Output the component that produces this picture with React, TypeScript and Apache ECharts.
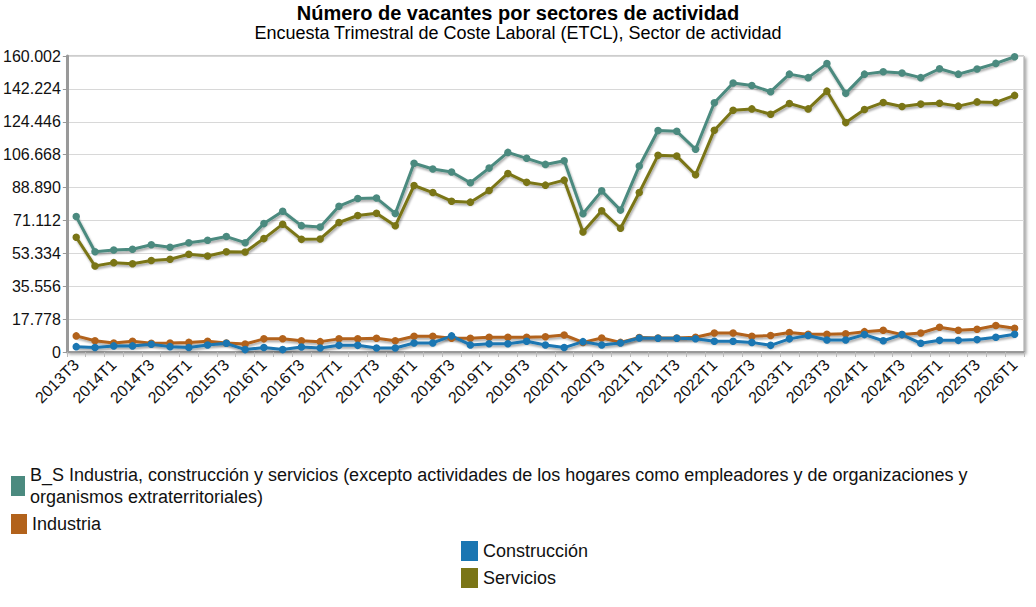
import React, { useEffect, useRef } from "react";
import * as echarts from "echarts";

const categories = [
  "2013T3", "2013T4",
  "2014T1", "2014T2", "2014T3", "2014T4",
  "2015T1", "2015T2", "2015T3", "2015T4",
  "2016T1", "2016T2", "2016T3", "2016T4",
  "2017T1", "2017T2", "2017T3", "2017T4",
  "2018T1", "2018T2", "2018T3", "2018T4",
  "2019T1", "2019T2", "2019T3", "2019T4",
  "2020T1", "2020T2", "2020T3", "2020T4",
  "2021T1", "2021T2", "2021T3", "2021T4",
  "2022T1", "2022T2", "2022T3", "2022T4",
  "2023T1", "2023T2", "2023T3", "2023T4",
  "2024T1", "2024T2", "2024T3", "2024T4",
  "2025T1", "2025T2", "2025T3", "2025T4",
  "2026T1",
];

const totalBS = [
  73200, 54200, 55100, 55500, 58000, 56600, 59100, 60400, 62400, 59100,
  69400, 76100, 68300, 67600, 78800, 83000, 83200, 74900, 102000, 98900,
  97300, 91500, 99400, 107900, 104700, 101400, 103400, 74700, 87100, 76700,
  100500, 119700, 119300, 109600, 134700, 145400, 144100, 140700, 150200, 148300,
  155900, 139800, 150200, 151500, 150800, 148300, 153100, 150200, 153000, 156000,
  159600,
];

const industria = [
  8700, 6100, 4900, 5800, 4700, 4900, 5200, 5800, 4900, 4300,
  7100, 7200, 6100, 5600, 7100, 7100, 7400, 6100, 8500, 8500,
  7400, 7400, 8000, 8000, 8000, 8200, 9200, 5200, 7600, 5200,
  7800, 7600, 7600, 8000, 10300, 10300, 8500, 8900, 10500, 9600,
  9600, 9800, 11000, 11800, 9400, 10300, 13400, 11800, 12300, 14300,
  12800,
];

const construccion = [
  2900, 2400, 3300, 3300, 4200, 2900, 2400, 3800, 4700, 1300,
  2400, 1300, 2700, 2200, 3600, 3600, 2200, 2200, 4900, 4900,
  8700, 3800, 4500, 4500, 5800, 3800, 2400, 5600, 3800, 4900,
  7600, 7400, 7400, 7200, 5800, 5800, 5200, 3600, 7100, 8900,
  6500, 6500, 9400, 6100, 9400, 4700, 6300, 6300, 6700, 8000,
  9600,
];

const servicios = [
  62000, 46500, 48300, 47700, 49500, 50100, 52800, 51900, 54200, 54100,
  61300, 69100, 60900, 61100, 70000, 73800, 75000, 68200, 90000, 86200,
  81500, 81000, 87300, 96500, 91700, 90200, 92900, 64900, 76300, 66900,
  86200, 106300, 105900, 95800, 119900, 130700, 131400, 128500, 134300, 131400,
  141000, 124000, 131100, 134900, 132700, 134000, 134500, 132900, 135200, 134900,
  138700,
];

const NAME_BS =
  "B_S Industria, construcción y servicios (excepto actividades de los hogares como empleadores y de organizaciones y organismos extraterritoriales)";
const NAME_IND = "Industria";
const NAME_CON = "Construcción";
const NAME_SER = "Servicios";

const COLORS = {
  bs: "#4b8a7f",
  ind: "#b2621b",
  con: "#1a76b2",
  ser: "#7a7516",
};

const FONT = "Arial, 'Liberation Sans', sans-serif";

function fmt(v: number): string {
  return String(Math.round(v)).replace(/\B(?=(\d{3})+(?!\d))/g, ".");
}

function makeSeries(name: string, data: number[], color: string) {
  return {
    name,
    type: "line",
    data,
    symbol: "circle",
    symbolSize: 7.5,
    color,
    lineStyle: {
      width: 3,
      color,
      shadowColor: "rgba(0,0,0,0.35)",
      shadowBlur: 2,
      shadowOffsetX: 1,
      shadowOffsetY: 2,
    },
    itemStyle: { color },
  };
}

const legendText = { fontSize: 18, color: "#111", fontFamily: FONT };

export default function App() {
  const ref = useRef<HTMLDivElement>(null);
  useEffect(() => {
    if (!ref.current) return;
    const chart = echarts.init(ref.current, undefined, { renderer: "svg" });
    chart.setOption({
      animation: false,
      backgroundColor: "#fff",
      title: {
        text: "Número de vacantes por sectores de actividad",
        subtext: "Encuesta Trimestral de Coste Laboral (ETCL), Sector de actividad",
        left: "center",
        top: -2,
        itemGap: 1,
        textStyle: { fontSize: 20, fontWeight: "bold", color: "#000", fontFamily: FONT },
        subtextStyle: { fontSize: 18, color: "#000", fontFamily: FONT },
      },
      grid: {
        left: 63,
        right: 12,
        top: 56,
        bottom: 255,
        show: true,
        backgroundColor: "#fff",
        borderColor: "#a0a0a0",
        borderWidth: 1,
        shadowColor: "rgba(0,0,0,0.35)",
        shadowBlur: 3,
        shadowOffsetX: 2,
        shadowOffsetY: 2,
      },
      xAxis: {
        type: "category",
        data: categories,
        boundaryGap: true,
        axisLine: { lineStyle: { color: "#999", width: 2 } },
        axisTick: { show: true, length: 5, lineStyle: { color: "#bbb" }, interval: 0 },
        axisLabel: {
          interval: 1,
          rotate: 45,
          fontSize: 16,
          color: "#111",
          fontFamily: FONT,
          margin: 10,
        },
      },
      yAxis: {
        type: "value",
        min: 0,
        max: 160002,
        interval: 17778,
        axisLine: { show: true, lineStyle: { color: "#999", width: 3 } },
        axisTick: { show: true, length: 4, lineStyle: { color: "#999" } },
        splitLine: { lineStyle: { color: "#d8d8d8", width: 1 } },
        axisLabel: {
          fontSize: 16,
          color: "#111",
          fontFamily: FONT,
          margin: 6,
          formatter: (v: number) => fmt(v),
        },
      },
      legend: [
        {
          data: [NAME_BS],
          left: 6,
          top: 459,
          icon: "rect",
          itemWidth: 14,
          itemHeight: 20,
          itemGap: 8,
          textStyle: { ...legendText, lineHeight: 22 },
          formatter: () =>
            "B_S Industria, construcción y servicios (excepto actividades de los hogares como empleadores y de organizaciones y\norganismos extraterritoriales)",
          selectedMode: false,
        },
        {
          data: [NAME_IND],
          left: 6,
          top: 509,
          icon: "rect",
          itemWidth: 16,
          itemHeight: 20,
          textStyle: legendText,
          selectedMode: false,
        },
        {
          data: [NAME_CON],
          left: 456,
          top: 536,
          icon: "rect",
          itemWidth: 17,
          itemHeight: 20,
          textStyle: legendText,
          selectedMode: false,
        },
        {
          data: [NAME_SER],
          left: 456,
          top: 563,
          icon: "rect",
          itemWidth: 17,
          itemHeight: 20,
          textStyle: legendText,
          selectedMode: false,
        },
      ],
      series: [
        makeSeries(NAME_IND, industria, COLORS.ind),
        makeSeries(NAME_CON, construccion, COLORS.con),
        makeSeries(NAME_SER, servicios, COLORS.ser),
        makeSeries(NAME_BS, totalBS, COLORS.bs),
      ],
    });
    return () => chart.dispose();
  }, []);
  return (
    <div
      ref={ref}
      style={{ position: "fixed", left: 0, top: 0, width: 1036, height: 607 }}
    />
  );
}
